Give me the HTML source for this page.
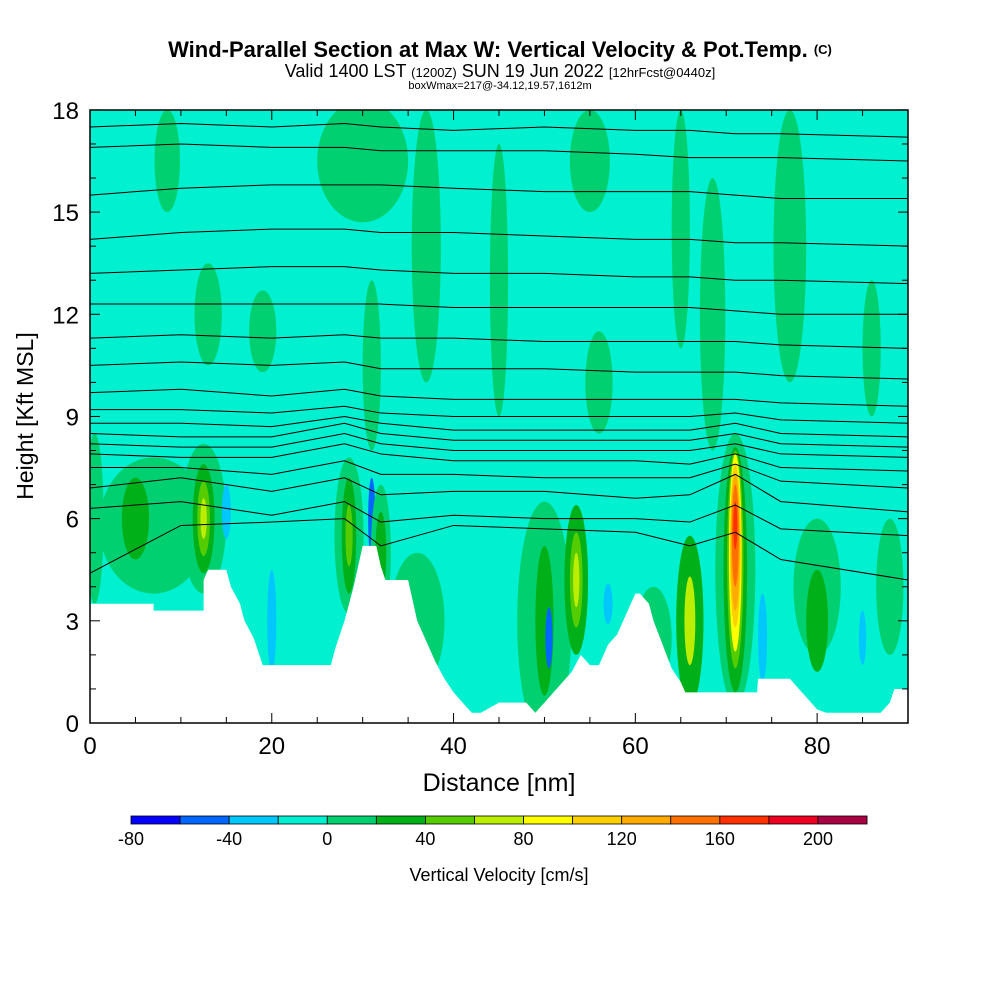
<!DOCTYPE html>
<html><head><meta charset="utf-8"><style>
body{margin:0;background:#fff;width:1000px;height:1000px;overflow:hidden}
svg{display:block}
</style></head><body>
<svg id="chart" width="1000" height="1000" viewBox="0 0 1000 1000" font-family="Liberation Sans, sans-serif">
<text x="500" y="57" text-anchor="middle" font-family="Liberation Sans Narrow, Liberation Sans, sans-serif" font-weight="bold" font-size="22">Wind-Parallel Section at Max W: Vertical Velocity &amp; Pot.Temp. <tspan font-size="13" dy="-3">(C)</tspan></text>
<text x="500" y="77" text-anchor="middle" font-family="Liberation Sans Narrow, Liberation Sans, sans-serif" font-size="18">Valid 1400 LST <tspan font-size="13">(1200Z)</tspan> SUN 19 Jun 2022 <tspan font-size="13">[12hrFcst@0440z]</tspan></text>
<text x="500" y="89" text-anchor="middle" font-family="Liberation Sans Narrow, Liberation Sans, sans-serif" font-size="11">boxWmax=217@-34.12,19.57,1612m</text>
<defs><clipPath id="pc"><rect x="90" y="110" width="818" height="613"/></clipPath></defs>
<g id="plot" clip-path="url(#pc)"></g>
<g id="axes"></g>
<g id="cbar"></g>
<text x="499" y="791" text-anchor="middle" font-size="25">Distance [nm]</text>
<text transform="translate(33,416) rotate(-90)" text-anchor="middle" font-size="23">Height [Kft MSL]</text>
<text x="499" y="881" text-anchor="middle" font-size="18">Vertical Velocity [cm/s]</text>
</svg>
<script>
const levels=[-80,-60,-40,-20,0,20,40,60,80,100,120,140,160,180,200];
const colors=["#0000ff","#0066ff","#00c8ff","#00f0d0","#00d070","#00b018","#55cc00","#bbee00","#ffff00","#ffd000","#ffaa00","#ff7000","#ff3000","#ee0020","#aa0044"];
const xTicks=[0,20,40,60,80];
const yTicks=[0,3,6,9,12,15,18];
// blobs: [x nm, height kft, rx nm, ry kft, color index]
const blobX=[30,8.5,37,55,65,68.5,77,86,13,19,31,56,45,0.5,7,5,12.5,12.5,12.5,12.5,15,20,28.5,28.5,28.5,31,32,32,36,50,50,50.5,53.5,53.5,53.5,62,66,66,71,71,71,71,71,71,71,71,74,80,80,85,88,57];
const blobY=[16.5,16.5,14,16.5,14.5,12,14,11,12,11.5,10.5,10,13,6,5.8,6,6,6,6,6,6.2,3,5.5,5.5,5.5,6,5,5,3,3,3,2.5,4.2,4.2,4.2,2.5,3,3,4.5,4.5,4.8,5,5.2,5.3,5.5,5.8,2.5,4,3,2.5,4,3.5];
const blobRX=[5,1.4,1.6,2.2,1,1.4,1.8,1,1.5,1.5,1,1.5,1,1,6,1.5,2.5,1.2,0.7,0.35,0.5,0.5,1.6,0.8,0.4,0.4,1.1,0.6,3,3,1,0.4,1.3,0.7,0.35,2,1.5,0.6,2.2,1.3,0.9,0.7,0.6,0.5,0.38,0.22,0.5,2.6,1.2,0.4,1.5,0.5];
const blobRY=[1.8,1.5,4,1.5,3.5,4,4,2,1.5,1.2,2.5,1.5,4,2.5,2,1.2,2.2,1.6,1.1,0.6,0.8,1.5,2.3,1.7,0.9,1.2,2,1.2,2,3.5,2.2,0.9,2.2,1.4,0.8,1.5,2.5,1.3,4,3.6,3.2,2.9,2.4,2.0,1.5,0.7,1.3,2,1.5,0.8,2,0.6];
const blobC=[4,4,4,4,4,4,4,4,4,4,4,4,4,4,4,5,4,5,6,7,2,2,4,5,6,1,4,5,4,4,5,1,5,6,7,4,5,7,4,5,6,8,9,10,11,12,2,4,5,2,4,2];
const terrX=[0,7,7,12.5,12.5,13,13.5,15,15.5,16.5,17,18,19,26.5,27,28,29,30,31.5,32,32.5,33,35,35.5,36,37,38,39,40,41,42,43,45,46,48,49,50,51,52,53,54,55,56,57,58,59,60,60.5,61.5,62,63,64,65,65.5,68,73.4,73.5,77,78,79,80,81,86,87,88,88.5,90];
const terrY=[3.5,3.5,3.3,3.3,4.2,4.5,4.5,4.5,4,3.5,3,2.5,1.7,1.7,2.2,3,4,5.2,5.2,4.6,4.2,4.2,4.2,3.6,3,2.4,1.8,1.3,0.9,0.6,0.3,0.3,0.6,0.6,0.6,0.3,0.6,0.9,1.2,1.5,2,1.7,1.7,2.3,2.6,3.2,3.8,3.8,3.5,3,2.3,1.6,1.2,0.9,0.9,0.9,1.3,1.3,1,0.7,0.4,0.3,0.3,0.3,0.6,1,1];
const thX=[0,10,20,28,32,40,50,60,66,71,76,90];
const thLines=[
[17.5,17.6,17.5,17.6,17.5,17.4,17.5,17.4,17.4,17.3,17.3,17.2],
[16.9,17,16.9,16.9,16.8,16.8,16.8,16.7,16.6,16.6,16.6,16.5],
[15.5,15.7,15.8,15.8,15.8,15.7,15.6,15.6,15.6,15.5,15.4,15.4],
[14.2,14.4,14.5,14.5,14.4,14.4,14.3,14.2,14.2,14.1,14.1,14],
[13.2,13.3,13.4,13.4,13.3,13.2,13.2,13.1,13.1,13,13,12.9],
[12.3,12.3,12.3,12.3,12.3,12.2,12.2,12.2,12.2,12.1,12,12],
[11.3,11.4,11.3,11.4,11.3,11.3,11.2,11.2,11.2,11.2,11.1,11],
[10.5,10.6,10.5,10.6,10.4,10.4,10.4,10.3,10.3,10.3,10.2,10.1],
[9.7,9.8,9.6,9.8,9.6,9.5,9.5,9.5,9.5,9.5,9.4,9.3],
[9.2,9.2,9.1,9.3,9.1,9,9,9,9,9.1,8.9,8.8],
[8.8,8.8,8.7,9.0,8.8,8.6,8.6,8.6,8.6,8.8,8.5,8.4],
[8.5,8.4,8.4,8.8,8.5,8.3,8.3,8.3,8.3,8.5,8.2,8.1],
[8.2,8.1,8.1,8.5,8.2,8,8,8,8,8.2,7.9,7.8],
[7.9,7.8,7.8,8.2,7.9,7.7,7.7,7.7,7.6,7.9,7.5,7.4],
[7.5,7.5,7.3,7.7,7.3,7.3,7.2,7.2,7.2,7.6,7.1,6.9],
[6.9,7.2,6.8,7.2,6.7,6.8,6.8,6.6,6.7,7.3,6.5,6.2],
[6.3,6.5,6.1,6.5,5.9,6.1,6,6,5.9,6.4,5.7,5.5],
[4.4,5.8,5.9,6,5.2,5.8,5.7,5.6,5.2,5.6,4.8,4.2]];
const NS="http://www.w3.org/2000/svg";
const sx=v=>90+v*9.0889, sy=v=>723-v*34.06;
function mk(t,a,p){const e=document.createElementNS(NS,t);for(const k in a)e.setAttribute(k,a[k]);p.appendChild(e);return e;}
const plot=document.getElementById('plot');
const bg=mk('rect',{x:90,y:110,width:818,height:613,fill:colors[3]},plot);


for(let i=0;i<blobX.length;i++){
 const e=mk('ellipse',{cx:sx(blobX[i]),cy:sy(blobY[i]),rx:blobRX[i]*9.0889,ry:blobRY[i]*34.06,fill:colors[blobC[i]]},plot);
 
 
}
for(let j=0;j<thLines.length;j++){
 const pts=thX.map((x,i)=>sx(x)+','+sy(thLines[j][i])).join(' ');
 const l=mk('polyline',{points:pts,fill:'none',stroke:'#000','stroke-width':1},plot);
 
 
}
let tp='M'+sx(0)+','+sy(0);
for(let i=0;i<terrX.length;i++)tp+=' L'+sx(terrX[i])+','+sy(terrY[i]);
tp+=' L'+sx(90)+','+sy(0)+' Z';
const terr=mk('path',{d:tp,fill:'#fff'},plot);


const ax=document.getElementById('axes');
const fr=mk('rect',{x:90,y:110,width:818,height:613,fill:'none',stroke:'#000','stroke-width':1.5},ax);


for(let v=0;v<=90;v+=5){const big=v%20==0,L=big?10:6;
 mk('line',{x1:sx(v),x2:sx(v),y1:723,y2:723-L,stroke:'#000'},ax);
 mk('line',{x1:sx(v),x2:sx(v),y1:110,y2:110+L,stroke:'#000'},ax);}
for(let v=0;v<=18;v++){const big=v%3==0,L=big?10:6;
 mk('line',{x1:90,x2:90+L,y1:sy(v),y2:sy(v),stroke:'#000'},ax);
 mk('line',{x1:908,x2:908-L,y1:sy(v),y2:sy(v),stroke:'#000'},ax);}
xTicks.forEach(v=>{const t=mk('text',{x:sx(v),y:754,'text-anchor':'middle','font-size':24},ax);t.textContent=v;
 
 });
yTicks.forEach(v=>{const t=mk('text',{x:79,y:sy(v)+9,'text-anchor':'end','font-size':24},ax);t.textContent=v;
 
 });
const cb=document.getElementById('cbar');
const bx=131,bw=49.07;
colors.forEach((c,i)=>{const r=mk('rect',{x:bx+i*bw,y:816,width:bw,height:8,fill:c,stroke:'#000','stroke-width':0.8},cb);
 
 });
levels.forEach((v,i)=>{if(i%2==0){const t=mk('text',{x:bx+i*bw,y:845,'text-anchor':'middle','font-size':18},cb);t.textContent=v;
 
 }});
</script>
</body></html>
